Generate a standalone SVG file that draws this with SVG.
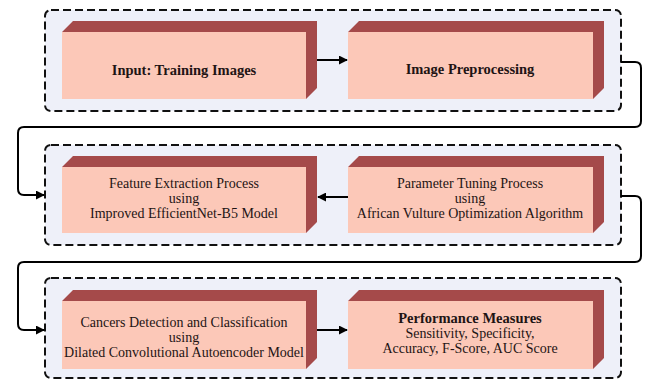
<svg xmlns="http://www.w3.org/2000/svg" width="649" height="381" viewBox="0 0 649 381">
<defs>
<marker id="ah" viewBox="0 0 10 10" refX="9" refY="5" markerWidth="9" markerHeight="9" markerUnits="userSpaceOnUse" orient="auto">
<path d="M0,0 L10,5 L0,10 z" fill="#000"/>
</marker>
<style>
.cont{fill:#eef0f9;stroke:#111;stroke-width:2;stroke-dasharray:8 4}
.front{fill:#fcc8b8}
.dark{fill:#a54a4a}
.t{font-family:"Liberation Serif","Times New Roman",serif;font-size:14px;fill:#1e1414;text-anchor:middle}
.b{font-weight:bold;font-size:14.5px}
.con{fill:none;stroke:#000;stroke-width:2}
</style>
</defs>
<rect width="649" height="381" fill="#fff"/>
<g id="stage1"><rect class="cont" x="45" y="10" width="576" height="101" rx="6"/></g>
<g id="stage2"><rect class="cont" x="45" y="145" width="576" height="100" rx="6"/></g>
<g id="stage3"><rect class="cont" x="45" y="278" width="576" height="100" rx="6"/></g>

<g id="input">
<polygon class="dark" points="62,32 73,21 317,21 317,88 306,99 306,32"/>
<rect class="front" x="62" y="32" width="244" height="67"/>
<text class="t b" x="184" y="75">Input: Training Images</text>
</g>
<g id="preprocessing">
<polygon class="dark" points="348,32 359,21 604,21 604,88 593,99 593,32"/>
<rect class="front" x="348" y="32" width="245" height="67"/>
<text class="t b" x="470" y="74">Image Preprocessing</text>
</g>
<g id="feature">
<polygon class="dark" points="62,167 73,156 317,156 317,222 306,233 306,167"/>
<rect class="front" x="62" y="167" width="244" height="66"/>
<text class="t" x="184" y="188">Feature Extraction Process</text>
<text class="t" x="184" y="203">using</text>
<text class="t" x="184" y="218">Improved EfficientNet-B5 Model</text>
</g>
<g id="tuning">
<polygon class="dark" points="348,167 359,156 604,156 604,222 593,233 593,167"/>
<rect class="front" x="348" y="167" width="245" height="66"/>
<text class="t" x="470" y="188">Parameter Tuning Process</text>
<text class="t" x="470" y="203">using</text>
<text class="t" x="470" y="218">African Vulture Optimization Algorithm</text>
</g>
<g id="detection">
<polygon class="dark" points="62,301 73,290 317,290 317,358 306,369 306,301"/>
<rect class="front" x="62" y="301" width="244" height="68"/>
<text class="t" x="184" y="327">Cancers Detection and Classification</text>
<text class="t" x="184" y="342">using</text>
<text class="t" x="184" y="357">Dilated Convolutional Autoencoder Model</text>
</g>
<g id="performance">
<polygon class="dark" points="348,301 359,290 604,290 604,358 593,369 593,301"/>
<rect class="front" x="348" y="301" width="245" height="68"/>
<text class="t b" x="470" y="323">Performance Measures</text>
<text class="t" x="470" y="338">Sensitivity, Specificity,</text>
<text class="t" x="470" y="353">Accuracy, F-Score, AUC Score</text>
</g>

<g id="connectors">
<path class="con" d="M317,60 H347" marker-end="url(#ah)"/>
<path class="con" d="M621,62 H635 Q641,62 641,68 V121 Q641,127 635,127 H24 Q18,127 18,133 V189 Q18,195 24,195 H44" marker-end="url(#ah)"/>
<path class="con" d="M348,197 H318" marker-end="url(#ah)"/>
<path class="con" d="M621,196 H635 Q641,196 641,202 V256 Q641,262 635,262 H24 Q18,262 18,268 V324 Q18,330 24,330 H44" marker-end="url(#ah)"/>
<path class="con" d="M317,330 H347" marker-end="url(#ah)"/>
</g>
</svg>
